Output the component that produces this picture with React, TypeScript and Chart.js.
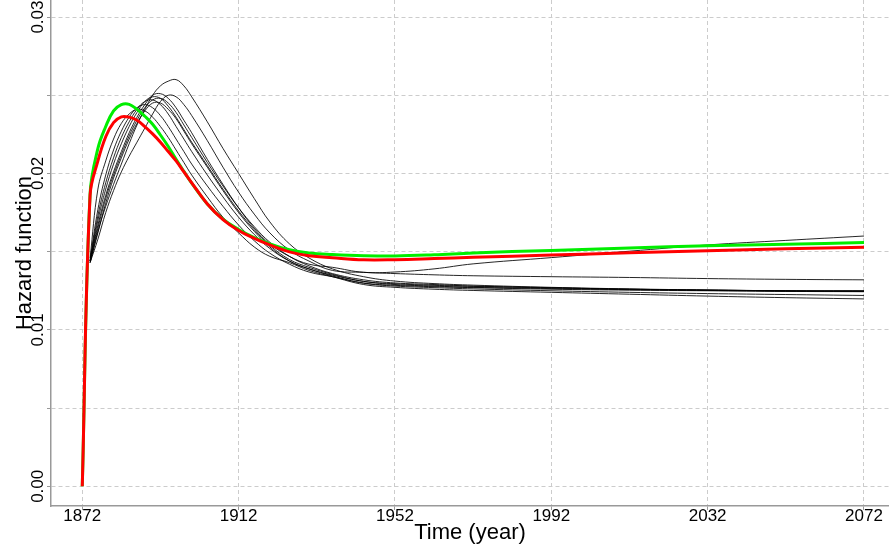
import React, { useEffect, useRef } from 'react';
import { Chart, registerables } from 'chart.js';

Chart.register(...registerables);

// ---- data ----
const years = [1872, 1874, 1876, 1878, 1880, 1882, 1884, 1886, 1888, 1890, 1892, 1894, 1896, 1898, 1900, 1904, 1908, 1912, 1916, 1920, 1925, 1930, 1936, 1944, 1952, 1962, 1972, 1992, 2012, 2032, 2052, 2072];

const redSeries = [0, 0.0186, 0.0208, 0.02235, 0.02325, 0.02362, 0.0236, 0.0234, 0.0230, 0.02253, 0.0220, 0.0214, 0.0208, 0.0201, 0.0194, 0.01805, 0.01705, 0.01635, 0.01585, 0.01543, 0.01499, 0.01474, 0.01461, 0.01448, 0.01449, 0.01456, 0.01464, 0.01478, 0.01493, 0.01506, 0.01518, 0.01528];

const greenSeries = [0, 0.0187, 0.0216, 0.0230, 0.0240, 0.02440, 0.02442, 0.0241, 0.02366, 0.02315, 0.02246, 0.02172, 0.0209, 0.02013, 0.01938, 0.01805, 0.01708, 0.01642, 0.0159, 0.0155, 0.01512, 0.01492, 0.01482, 0.01474, 0.01472, 0.01480, 0.01492, 0.01508, 0.01524, 0.01538, 0.01548, 0.01558];

const black1 = [null, 0.0143, 0.0163, 0.0179, 0.0193, 0.0206, 0.0219, 0.0231, 0.0241, 0.0250, 0.0256, 0.0259, 0.0260, 0.0256, 0.0249, 0.0233, 0.0216, 0.0200, 0.0184, 0.0169, 0.0155, 0.0146, 0.0139, 0.0134, 0.01312, 0.01296, 0.01286, 0.01272, 0.01262, 0.01255, 0.0125, 0.01248];
const black2 = [null, 0.0144, 0.0167, 0.0186, 0.0201, 0.0214, 0.0226, 0.0236, 0.0244, 0.0250, 0.0251, 0.0248, 0.0242, 0.0234, 0.0226, 0.0209, 0.0193, 0.0178, 0.0165, 0.0155, 0.0147, 0.0142, 0.0140, 0.01368, 0.0137, 0.0139, 0.01422, 0.01462, 0.01503, 0.01543, 0.01572, 0.0160];
const black3 = [null, 0.0143, 0.0158, 0.0175, 0.0189, 0.0201, 0.0211, 0.0220, 0.0229, 0.0238, 0.0246, 0.0250, 0.0249, 0.0244, 0.0237, 0.0221, 0.0204, 0.0188, 0.0174, 0.0162, 0.0151, 0.0144, 0.0138, 0.01368, 0.0136, 0.01352, 0.01346, 0.0134, 0.01335, 0.01328, 0.01323, 0.0132];
const black4 = [null, 0.0144, 0.0170, 0.0190, 0.0206, 0.0219, 0.0230, 0.0239, 0.0246, 0.0249, 0.0248, 0.0243, 0.0236, 0.0228, 0.0220, 0.0205, 0.0190, 0.0176, 0.0164, 0.0154, 0.0145, 0.0140, 0.01355, 0.0131, 0.01295, 0.01285, 0.01278, 0.01268, 0.0126, 0.01254, 0.0125, 0.01248];
const black5 = [null, 0.0144, 0.0173, 0.0194, 0.0210, 0.0223, 0.0233, 0.0241, 0.0246, 0.0247, 0.0244, 0.0238, 0.0230, 0.0222, 0.0214, 0.0199, 0.0185, 0.0172, 0.0161, 0.0152, 0.0144, 0.0139, 0.0135, 0.0131, 0.0129, 0.0128, 0.01272, 0.01264, 0.01257, 0.01252, 0.01248, 0.01246];
const black6 = [null, 0.0143, 0.0162, 0.0181, 0.0197, 0.0210, 0.0222, 0.0232, 0.0240, 0.0245, 0.0245, 0.0241, 0.0235, 0.0227, 0.0219, 0.0204, 0.0189, 0.0175, 0.0163, 0.0153, 0.0144, 0.0139, 0.01345, 0.0130, 0.01285, 0.01276, 0.0127, 0.0126, 0.01254, 0.0125, 0.01246, 0.01244];
const black7 = [null, 0.0145, 0.0177, 0.0199, 0.0215, 0.0227, 0.0236, 0.0242, 0.0244, 0.0242, 0.0237, 0.0230, 0.0222, 0.0214, 0.0206, 0.0192, 0.0179, 0.0167, 0.0157, 0.0149, 0.0142, 0.0137, 0.0134, 0.01298, 0.0128, 0.0127, 0.01262, 0.0125, 0.0124, 0.01232, 0.01226, 0.0122];
const black8 = [null, 0.0146, 0.0190, 0.0208, 0.0222, 0.0232, 0.0238, 0.0241, 0.0240, 0.0236, 0.0230, 0.0223, 0.0215, 0.0207, 0.0199, 0.0185, 0.0172, 0.0162, 0.0153, 0.0147, 0.0143, 0.0138, 0.0134, 0.0129, 0.01272, 0.0126, 0.01252, 0.0124, 0.01228, 0.01216, 0.01206, 0.01198];
const black9 = [null, 0.0144, 0.0165, 0.0184, 0.0199, 0.0212, 0.0224, 0.0234, 0.0242, 0.0247, 0.0248, 0.0245, 0.0239, 0.0231, 0.0223, 0.0207, 0.0192, 0.0178, 0.0166, 0.0156, 0.0147, 0.0141, 0.0136, 0.0132, 0.0130, 0.0129, 0.0128, 0.0127, 0.0126, 0.01255, 0.0125, 0.0125];

const blackSeries = [black1, black2, black3, black4, black5, black6, black7, black8, black9];

const xTickYears = [1872, 1912, 1952, 1992, 2032, 2072];
const yGridValues = [0, 0.005, 0.01, 0.015, 0.02, 0.025, 0.03];
const yLabelValues = [0, 0.01, 0.02, 0.03];

const X_MIN = 1864;
const X_MAX = 2078.4;
const Y_MIN = -0.00126;
const Y_MAX = 0.03109;

const FONT = '"Liberation Sans", Arial, Helvetica, sans-serif';

function toPoints(series: (number | null)[]) {
  return years.map((x, i) => ({ x, y: series[i] }));
}

const yLabelPlugin = {
  id: 'yRotatedLabels',
  afterDraw(chart: any) {
    const ys = chart.scales.y;
    const ctx = chart.ctx;
    ctx.save();
    ctx.font = `17px ${FONT}`;
    ctx.fillStyle = '#000';
    ctx.textAlign = 'center';
    ctx.textBaseline = 'alphabetic';
    for (const v of yLabelValues) {
      const py = ys.getPixelForValue(v);
      ctx.save();
      ctx.translate(ys.right - 8, py);
      ctx.rotate(-Math.PI / 2);
      ctx.fillText(v.toFixed(2), 0, 0);
      ctx.restore();
    }
    ctx.restore();
  },
};

export default function App() {
  const canvasRef = useRef<HTMLCanvasElement | null>(null);

  useEffect(() => {
    if (!canvasRef.current) return;
    const datasets: any[] = [
      {
        label: 'red',
        data: toPoints(redSeries),
        borderColor: '#ff0000',
        borderWidth: 3,
        pointRadius: 0,
        tension: 0.4,
      },
      {
        label: 'green',
        data: toPoints(greenSeries),
        borderColor: '#00ee00',
        borderWidth: 3,
        pointRadius: 0,
        tension: 0.4,
      },
      ...blackSeries.map((s, i) => ({
        label: 'black' + (i + 1),
        data: toPoints(s),
        borderColor: 'rgba(0,0,0,0.85)',
        borderWidth: 1,
        pointRadius: 0,
        tension: 0.4,
      })),
    ];

    const chart = new Chart(canvasRef.current, {
      type: 'line',
      data: { datasets },
      plugins: [yLabelPlugin],
      options: {
        animation: false,
        responsive: false,
        maintainAspectRatio: false,
        devicePixelRatio: 1,
        layout: { padding: 0 },
        plugins: { legend: { display: false }, tooltip: { enabled: false } },
        elements: { line: { fill: false, capBezierPoints: true } },
        scales: {
          x: {
            type: 'linear',
            min: X_MIN,
            max: X_MAX,
            afterBuildTicks: (scale: any) => {
              scale.ticks = xTickYears.map((v) => ({ value: v }));
            },
            afterFit: (scale: any) => {
              scale.height = 45;
            },
            ticks: {
              autoSkip: false,
              maxRotation: 0,
              minRotation: 0,
              padding: -2,
              color: '#000',
              font: { family: FONT, size: 17, lineHeight: 1 },
              callback: (v: any) => String(v),
            },
            grid: {
              color: '#cccccc',
              lineWidth: 1,
              drawTicks: true,
              tickLength: 4,
              tickColor: '#999999',
            },
            border: { display: true, color: '#999999', width: 1.5, dash: [4, 3] },
            title: {
              display: true,
              text: 'Time (year)',
              color: '#000',
              font: { family: FONT, size: 22 },
              padding: { top: 0, bottom: 5 },
            },
          },
          y: {
            type: 'linear',
            min: Y_MIN,
            max: Y_MAX,
            afterBuildTicks: (scale: any) => {
              scale.ticks = yGridValues.map((v) => ({ value: v }));
            },
            afterFit: (scale: any) => {
              scale.width = 51;
            },
            ticks: { display: false },
            grid: {
              color: '#cccccc',
              lineWidth: 1,
              drawTicks: true,
              tickLength: 4,
              tickColor: '#999999',
            },
            border: { display: true, color: '#999999', width: 1.5, dash: [4, 3] },
            title: {
              display: true,
              text: 'Hazard function',
              color: '#000',
              font: { family: FONT, size: 22 },
              padding: { top: 12, bottom: 0 },
            },
          },
        },
      } as any,
    });
    return () => chart.destroy();
  }, []);

  return (
    <div style={{ position: 'fixed', left: 0, top: 0, width: 889, height: 551, background: '#fff' }}>
      <canvas ref={canvasRef} width={889} height={551} style={{ display: 'block' }} />
    </div>
  );
}
